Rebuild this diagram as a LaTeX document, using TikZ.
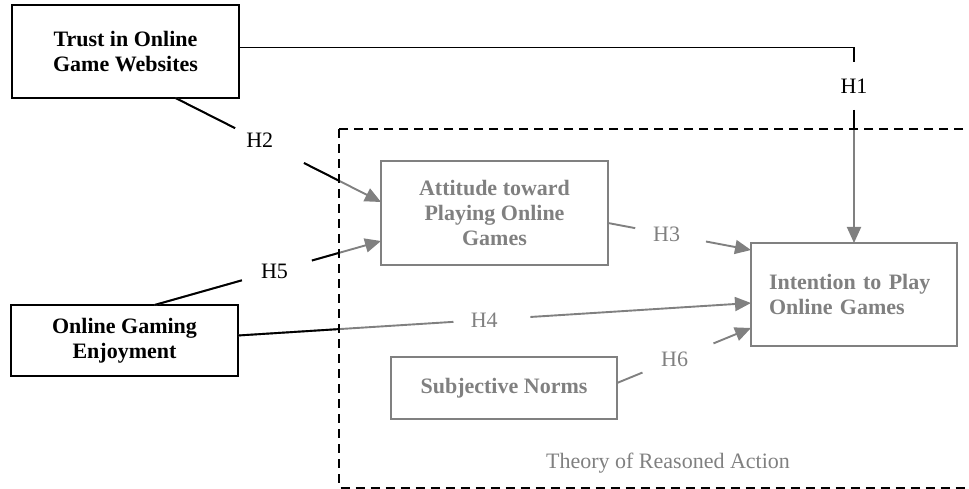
\documentclass[tikz,border=0pt]{standalone}
\usepackage{fontspec}
\setmainfont{Liberation Serif}
\usetikzlibrary{calc,arrows.meta}
\definecolor{tragray}{HTML}{808080}
\tikzset{>={Triangle[length=16pt,width=14pt]}}
\tikzset{
  every node/.style={font=\fontsize{22}{25}\selectfont, inner sep=0pt, outer sep=0pt},
  outbox/.style={draw, line width=2.2pt, font=\fontsize{22}{25}\selectfont\bfseries, align=center, minimum width=227pt},
  trabox/.style={draw=tragray, text=tragray, line width=2pt, font=\fontsize{22}{25}\selectfont\bfseries, align=center},
  hlink/.style={line width=1.9pt},
  traframe/.style={line width=2pt, dash pattern=on 9pt off 6pt}
}
% connectors of the hypotheses, drawn once per colour
\newcommand\hyplinks{%
  \draw[hlink] ([yshift=4pt]trust.east) -| (h1.north);
  \draw[hlink,->] (h1.south) -- (intention.north);
  \draw[hlink] (s2) -- ($(s2)!0.29!(d2)$);
  \draw[hlink,->] ($(s2)!0.625!(d2)$) -- (d2);
  \draw[hlink] (s3) -- ($(s3)!0.19!(d3)$);
  \draw[hlink,->] ($(s3)!0.685!(d3)$) -- (d3);
  \draw[hlink] (s4) -- ($(s4)!0.42!(d4)$);
  \draw[hlink,->] ($(s4)!0.57!(d4)$) -- (d4);
  \draw[hlink] (s5) -- ($(s5)!0.386!(d5)$);
  \draw[hlink,->] ($(s5)!0.695!(d5)$) -- (d5);
  \draw[hlink] (s6) -- ($(s6)!0.19!(d6)$);
  \draw[hlink,->] ($(s6)!0.72!(d6)$) -- (d6);
}

\begin{document}
\begin{tikzpicture}[x=1pt,y=-1pt]
  \useasboundingbox (0,0) rectangle (969,489);
  \clip (0,0) rectangle (969,489);

  % constructs
  \node[outbox, minimum height=93pt] (trust) at (125.5,51.5) {Trust in Online\\Game Websites};
  \node[outbox, minimum height=71pt] (enjoy) at (124.5,340.5) {Online Gaming\\Enjoyment};
  \node[trabox, minimum width=227pt, minimum height=104pt] (attitude) at (494.5,213) {Attitude toward\\Playing Online\\Games};
  \node[trabox, minimum width=206pt, minimum height=103pt, text width=170pt, align=left] (intention) at (854,294.5) {Intention to Play\\Online Games};
  \node[trabox, minimum width=226pt, minimum height=62pt] (norms) at (504,388) {Subjective Norms};

  \coordinate (s2) at ([xshift=50pt]trust.south);
  \coordinate (d2) at ([yshift=11pt]attitude.west);
  \coordinate (s3) at ([yshift=-10pt]attitude.east);
  \coordinate (d3) at ([yshift=44.5pt]intention.west);
  \coordinate (s4) at ([yshift=5pt]enjoy.east);
  \coordinate (d4) at ([yshift=-8.5pt]intention.west);
  \coordinate (s5) at ([xshift=30pt]enjoy.north);
  \coordinate (d5) at ([yshift=-28pt]attitude.west);
  \coordinate (s6) at ([yshift=5pt]norms.east);
  \coordinate (d6) at ([yshift=-33.5pt]intention.west);

  % hypothesis labels
  \node[inner ysep=16.6pt] (h1) at (854,86) {H1};
  \node (h2) at ($(s2)!0.41!(d2)$) {H2};
  \node[text=tragray] (h3) at ($(s3)!0.41!(d3)$) {H3};
  \node[text=tragray] (h4) at ($(s4)!0.48!(d4)$) {H4};
  \node (h5) at ($(s5)!0.53!(d5)$) {H5};
  \node[text=tragray] (h6) at ($(s6)!0.43!(d6)$) {H6};

  % gray inside the frame, black outside
  \begin{scope}[color=tragray]
    \hyplinks
  \end{scope}
  \begin{scope}
    \clip (0,0) rectangle (339,489);
    \hyplinks
  \end{scope}
  \begin{scope}
    \clip (339,0) rectangle (969,129);
    \hyplinks
  \end{scope}

  \draw[traframe] (339,129) rectangle (990,487.5);
  \node[text=tragray, anchor=base] (tra) at (668,468) {Theory of Reasoned Action};
\end{tikzpicture}
\end{document}
